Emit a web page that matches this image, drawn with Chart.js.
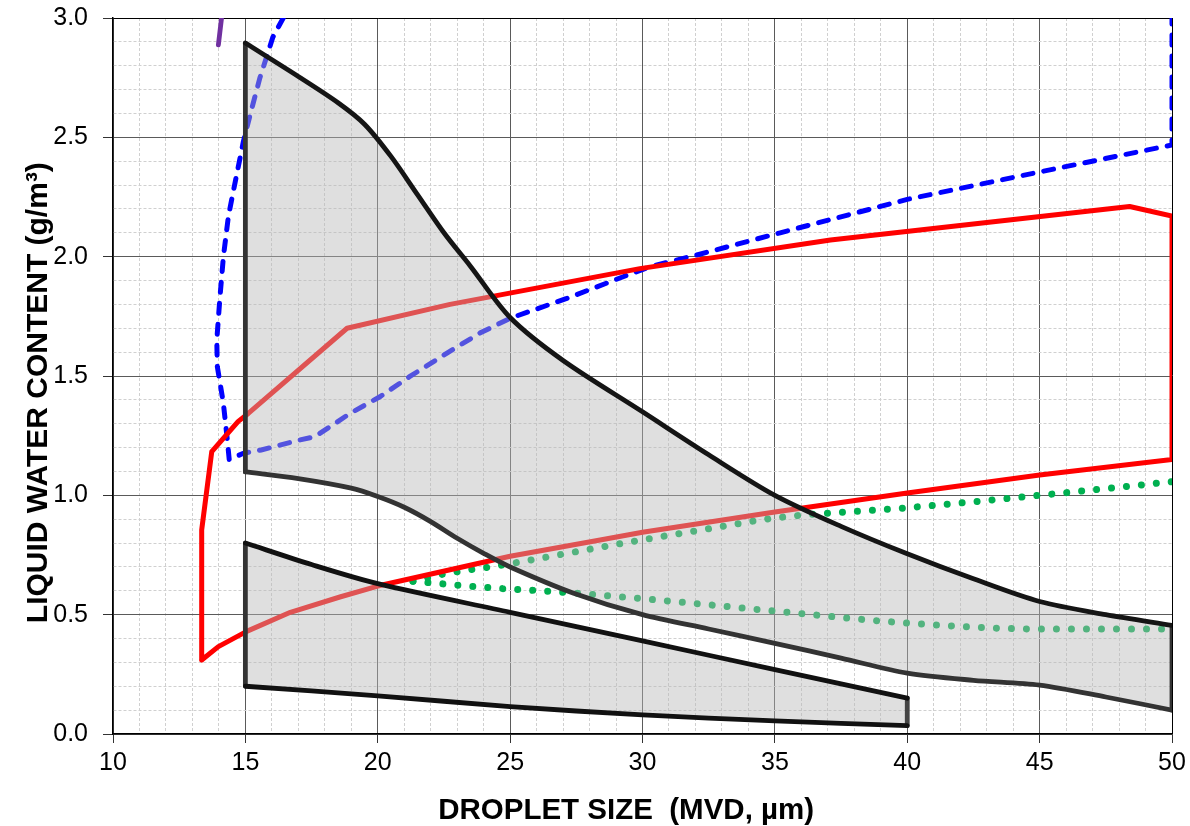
<!DOCTYPE html>
<html>
<head>
<meta charset="utf-8">
<title>Liquid water content vs droplet size</title>
<script src="https://cdn.jsdelivr.net/npm/chart.js@4.4.1/dist/chart.umd.min.js"></script>
<style>
    body { margin: 0; background: #fff; }
    #wrap { width: 1190px; height: 826px; }
</style>
</head>
<body>
<div id="wrap"><canvas id="myChart" width="1190" height="826"></canvas></div>
<script>
// upper grey envelope (top and bottom boundary)
const contTopX = [15, 17, 18.5, 19.5, 20.5, 21.5, 22.5, 23.5, 25, 27, 30, 32.5, 35, 37.5, 40, 42.5, 45, 47.5, 50];
const contTopY = [2.895, 2.755, 2.645, 2.555, 2.42, 2.26, 2.1, 1.96, 1.745, 1.565, 1.35, 1.17, 1.0, 0.87, 0.755, 0.65, 0.555, 0.5, 0.455];
const contBottomX = [15, 17, 19, 20, 21, 22, 23, 24, 25, 27.4, 30, 32.5, 35, 37.5, 40, 42.5, 45, 47.5, 50];
const contBottomY = [1.098, 1.07, 1.03, 0.995, 0.95, 0.89, 0.82, 0.757, 0.70, 0.59, 0.50, 0.44, 0.38, 0.318, 0.255, 0.225, 0.205, 0.155, 0.10];

// lower grey envelope
const interTopX = [15, 17.5, 20, 25, 30, 35, 40];
const interTopY = [0.80, 0.71, 0.63, 0.51, 0.39, 0.27, 0.15];
const interBottomX = [15, 20, 25, 30, 35, 40];
const interBottomY = [0.20, 0.16, 0.115, 0.08, 0.055, 0.035];

// red loop
const redX = [13.35, 13.35, 13.73, 14.73, 15.11, 18.84, 22.73, 29.9, 37.1, 48.4, 50, 50, 45, 40, 35, 30, 28.4, 25, 20, 18.6, 16.7, 15.05, 13.98, 13.35];
const redY = [0.31, 0.855, 1.183, 1.31, 1.343, 1.70, 1.80, 1.95, 2.07, 2.21, 2.17, 1.15, 1.085, 1.01, 0.93, 0.845, 0.813, 0.745, 0.62, 0.575, 0.51, 0.43, 0.366, 0.31];

// blue dashed loop
const blueX = [16.43, 16.04, 15.55, 15.17, 14.92, 14.61, 14.36, 14.17, 14.04, 13.92, 13.94, 14.17, 14.32, 14.39, 14.92, 15.6, 17.06, 17.63, 18.95, 20.08, 21.2, 22.6, 23.86, 25, 27.14, 29.27, 30.28, 32.05, 35.2, 40, 45, 50, 50];
const blueY = [3.0, 2.92, 2.75, 2.59, 2.48, 2.31, 2.17, 2.0, 1.83, 1.65, 1.54, 1.385, 1.23, 1.15, 1.176, 1.19, 1.232, 1.246, 1.343, 1.413, 1.497, 1.595, 1.68, 1.742, 1.825, 1.916, 1.958, 2.007, 2.10, 2.24, 2.355, 2.468, 3.0];

// green dotted branches
const greenUpperX = [21.33, 22.5, 24.7, 27.5, 29.6, 32.5, 35, 40, 45, 50];
const greenUpperY = [0.64, 0.67, 0.708, 0.764, 0.806, 0.86, 0.905, 0.948, 1.0, 1.057];
const greenLowerX = [21.33, 22.35, 24.6, 26.9, 29.15, 31.4, 35, 40, 45, 50];
const greenLowerY = [0.64, 0.63, 0.61, 0.595, 0.575, 0.553, 0.515, 0.465, 0.44, 0.44];

// purple stub
const purpleX = [13.98, 14.1];
const purpleY = [2.887, 3.0];

const xTicksMajor = 5;
const yTicksMajor = 0.5;

const fillGrey = "rgba(185,185,185,0.45)";
const curveTension = 0.3;

function toPoints(xs, ys) {
    return xs.map((x, i) => ({ x: x, y: ys[i] }));
}

function edge(xs1, ys1, xs2, ys2, idx1, idx2) {
    return [{ x: xs1[idx1], y: ys1[idx1] }, { x: xs2[idx2], y: ys2[idx2] }];
}

function isMajor(v, step) {
    return Math.abs(v / step - Math.round(v / step)) < 1e-6;
}

function outline(data, color, smooth) {
    return {
        data: data,
        borderColor: color,
        borderWidth: 4.8,
        borderCapStyle: "round",
        borderJoinStyle: "round",
        tension: smooth ? curveTension : 0,
        fill: false
    };
}

function fillArea(data, withFill) {
    return {
        data: data,
        borderWidth: 0,
        borderColor: "rgba(0,0,0,0)",
        backgroundColor: fillGrey,
        tension: curveTension,
        fill: withFill ? "+1" : false
    };
}

const last = arr => arr.length - 1;

const datasets = [
    // outlines (drawn last, on top)
    outline(toPoints(contTopX, contTopY), "#151515", true),
    outline(toPoints(contBottomX, contBottomY), "#333333", true),
    outline(edge(contBottomX, contBottomY, contTopX, contTopY, 0, 0), "#333333", false),
    outline(edge(contTopX, contTopY, contBottomX, contBottomY, last(contTopX), last(contBottomX)), "#333333", false),
    outline(toPoints(interTopX, interTopY), "#111111", true),
    outline(toPoints(interBottomX, interBottomY), "#111111", true),
    outline(edge(interBottomX, interBottomY, interTopX, interTopY, 0, 0), "#333333", false),
    outline(edge(interTopX, interTopY, interBottomX, interBottomY, last(interTopX), last(interBottomX)), "#444444", false),
    // grey fills (over the coloured lines)
    fillArea(toPoints(contTopX, contTopY), true),
    fillArea(toPoints(contBottomX, contBottomY), false),
    fillArea(toPoints(interTopX, interTopY), true),
    fillArea(toPoints(interBottomX, interBottomY), false),
    // coloured curves (drawn first)
    {
        data: toPoints(redX, redY),
        borderColor: "#ff0000",
        borderWidth: 5,
        borderJoinStyle: "round",
        borderCapStyle: "round",
        tension: 0
    },
    {
        data: toPoints(blueX, blueY),
        borderColor: "#0000ff",
        borderWidth: 5,
        borderDash: [10, 11],
        borderCapStyle: "round",
        tension: 0
    },
    {
        data: toPoints(greenUpperX, greenUpperY),
        borderColor: "#00b050",
        borderWidth: 7,
        borderDash: [0.01, 15],
        borderCapStyle: "round",
        cubicInterpolationMode: "monotone"
    },
    {
        data: toPoints(greenLowerX, greenLowerY),
        borderColor: "#00b050",
        borderWidth: 7,
        borderDash: [0.01, 15],
        borderCapStyle: "round",
        cubicInterpolationMode: "monotone"
    },
    {
        data: toPoints(purpleX, purpleY),
        borderColor: "#7030a0",
        borderWidth: 4.8,
        borderCapStyle: "round",
        tension: 0
    }
];

Chart.defaults.font.family = "Arial, 'Liberation Sans', sans-serif";
Chart.defaults.color = "#000";

function gridColor(ctx, step, edgeValue) {
    if (!ctx.tick) return "#555";
    const v = ctx.tick.value;
    if (Math.abs(v - edgeValue) < 1e-6) return "#000";
    return isMajor(v, step) ? "#5a5a5a" : "#d0d0d0";
}

function gridDash(ctx, step) {
    if (!ctx.tick) return [];
    return isMajor(ctx.tick.value, step) ? [] : [3, 2];
}

function tickMarkColor(ctx, step) {
    if (!ctx.tick) return "#333";
    return isMajor(ctx.tick.value, step) ? "#333" : "rgba(0,0,0,0)";
}

const canvas = document.getElementById("myChart");
new Chart(canvas, {
    type: "scatter",
    data: { datasets: datasets },
    options: {
        responsive: false,
        animation: false,
        events: [],
        layout: { padding: { top: 18, right: 18, left: 0, bottom: 0 } },
        elements: { point: { radius: 0, hoverRadius: 0 } },
        datasets: { scatter: { showLine: true } },
        plugins: {
            legend: { display: false },
            tooltip: { enabled: false },
            filler: { drawTime: "beforeDatasetDraw" }
        },
        scales: {
            x: {
                type: "linear",
                min: 10,
                max: 50,
                afterFit: scale => {
                    scale.height = 92;
                    scale.paddingLeft = 0;
                    scale.paddingRight = 0;
                },
                ticks: {
                    stepSize: 1,
                    autoSkip: false,
                    maxRotation: 0,
                    padding: 5,
                    font: { size: 25 },
                    callback: v => isMajor(v, xTicksMajor) ? String(v) : ""
                },
                grid: {
                    color: ctx => gridColor(ctx, xTicksMajor, 50),
                    lineWidth: 1,
                    tickLength: 9,
                    tickColor: ctx => tickMarkColor(ctx, xTicksMajor)
                },
                border: { color: "#000", width: 1.5, dash: ctx => gridDash(ctx, xTicksMajor) },
                title: {
                    display: true,
                    text: "DROPLET SIZE  (MVD, µm)\u00a0\u00a0\u00a0\u00a0",
                    font: { size: 29.5, weight: "bold", lineHeight: 1 },
                    padding: { top: 0, bottom: 0 }
                }
            },
            y: {
                type: "linear",
                min: 0,
                max: 3,
                afterFit: scale => {
                    scale.width = 113;
                    scale.paddingTop = 0;
                    scale.paddingBottom = 0;
                },
                ticks: {
                    stepSize: 0.1,
                    autoSkip: false,
                    padding: 15,
                    font: { size: 25 },
                    callback: v => isMajor(v, yTicksMajor) ? v.toFixed(1) : ""
                },
                grid: {
                    color: ctx => gridColor(ctx, yTicksMajor, 3),
                    lineWidth: 1,
                    tickLength: 10,
                    tickColor: ctx => tickMarkColor(ctx, yTicksMajor)
                },
                border: { color: "#000", width: 1.5, dash: ctx => gridDash(ctx, yTicksMajor) },
                title: {
                    display: true,
                    text: "LIQUID WATER CONTENT (g/m³)\u00a0\u00a0\u00a0\u00a0",
                    font: { size: 30, weight: "bold", lineHeight: 1 },
                    padding: { top: 24, bottom: 0 }
                }
            }
        }
    }
});
</script>
</body>
</html>
